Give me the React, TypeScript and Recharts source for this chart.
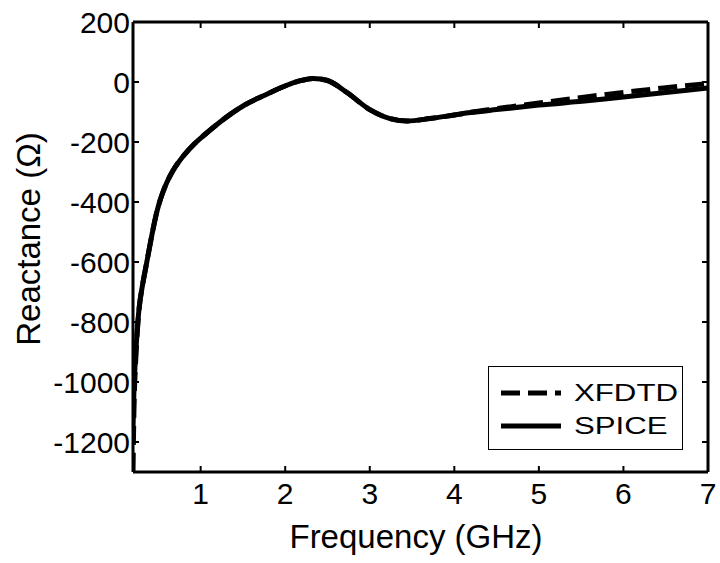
import React from 'react';
import { LineChart, Line, XAxis, YAxis, Legend } from 'recharts';

// frequency in GHz
const FREQ = [
  0.2, 0.21, 0.23, 0.25, 0.265, 0.28, 0.3, 0.32, 0.36, 0.42, 0.48, 0.52, 0.55, 0.6, 0.67, 0.8, 0.93, 1.05, 1.2,
  1.35, 1.53, 1.75, 1.94, 2.15, 2.33, 2.5, 2.73, 3.0, 3.24, 3.44, 3.71, 4.0, 4.19, 4.5, 5.0, 5.6, 6.0, 6.5, 7.0,
];

// reactance in ohm
const XFDTD = [
  -1300, -1110, -940, -835, -778, -737, -698, -665, -605, -515, -435, -395, -370, -335, -297, -245, -205, -175,
  -140, -108, -75, -45, -20, 2, 12, 5, -35, -92, -122, -130, -122, -110, -101, -89, -70, -48, -35, -19, -5,
];

const SPICE = [
  -1160, -1040, -915, -830, -775, -735, -698, -665, -605, -515, -435, -395, -370, -335, -297, -245, -205, -175,
  -140, -108, -75, -45, -20, 2, 12, 5, -35, -92, -122, -130, -122, -110, -102, -92, -77, -62, -50, -35, -20,
];

const X_TICKS = [1, 2, 3, 4, 5, 6, 7];
const Y_TICKS = [-1200, -1000, -800, -600, -400, -200, 0, 200];

const FONT = '"Liberation Sans", Arial, Helvetica, sans-serif';
const DASH = '19 8';

const data = FREQ.map((f, i) => ({ f, xfdtd: XFDTD[i], spice: SPICE[i] }));

const tickStyle = { fill: '#000', fontSize: 30, fontFamily: FONT };
const tickLineStyle = { stroke: '#000', strokeWidth: 2 };
const axisLineStyle = { stroke: '#000', strokeWidth: 3 };

const renderLegend = () => (
  <div
    style={{
      border: '1px solid #000',
      background: '#fff',
      width: 195,
      height: 84,
      paddingTop: 9,
      boxSizing: 'border-box',
      fontFamily: FONT,
      fontSize: 24,
      color: '#000',
    }}
  >
    {[
      { name: 'XFDTD', dash: DASH },
      { name: 'SPICE', dash: undefined },
    ].map((s) => (
      <div key={s.name} style={{ display: 'flex', alignItems: 'center', height: 33, paddingLeft: 12 }}>
        <svg width={60} height={10} style={{ display: 'block' }}>
          <line x1={0} y1={5} x2={60} y2={5} stroke="#000" strokeWidth={5} strokeDasharray={s.dash} />
        </svg>
        <span
          style={{
            marginLeft: 13,
            lineHeight: '33px',
            display: 'inline-block',
            transform: 'scale(1.3,1)',
            transformOrigin: 'left center',
          }}
        >
          {s.name}
        </span>
      </div>
    ))}
  </div>
);

// axis titles
const YLabel = () => (
  <text
    x={40}
    y={239}
    transform="rotate(-90, 40, 239)"
    textAnchor="middle"
    fontFamily={FONT}
    fontSize={33}
    fill="#000"
  >
    Reactance (Ω)
  </text>
);

const XLabel = () => (
  <text x={416} y={548} textAnchor="middle" fontFamily={FONT} fontSize={33} fill="#000">
    Frequency (GHz)
  </text>
);

export default function App() {
  return (
    <div style={{ position: 'absolute', left: 0, top: 0, background: '#fff' }}>
      <LineChart width={720} height={563} data={data} margin={{ top: 21, right: 11, bottom: 0, left: 0 }}>
        <XAxis
          dataKey="f"
          type="number"
          domain={[0.2, 7]}
          ticks={X_TICKS}
          allowDataOverflow
          height={91}
          tick={tickStyle}
          tickSize={-6}
          tickMargin={17}
          tickLine={tickLineStyle}
          axisLine={axisLineStyle}
          label={<XLabel />}
        />
        <XAxis
          xAxisId="top"
          orientation="top"
          dataKey="f"
          type="number"
          domain={[0.2, 7]}
          ticks={X_TICKS}
          allowDataOverflow
          height={1}
          tickSize={-6}
          tickFormatter={() => ''}
          tickLine={tickLineStyle}
          axisLine={axisLineStyle}
        />
        <YAxis
          type="number"
          domain={[-1300, 200]}
          ticks={Y_TICKS}
          allowDataOverflow
          width={133}
          tick={tickStyle}
          tickSize={-6}
          tickMargin={9}
          tickLine={tickLineStyle}
          axisLine={axisLineStyle}
          label={<YLabel />}
        />
        <YAxis
          yAxisId="right"
          orientation="right"
          type="number"
          domain={[-1300, 200]}
          ticks={Y_TICKS}
          allowDataOverflow
          width={1}
          tickSize={-6}
          tickFormatter={() => ''}
          tickLine={tickLineStyle}
          axisLine={axisLineStyle}
        />
        <Legend
          layout="vertical"
          align="center"
          verticalAlign="middle"
          content={renderLegend}
          wrapperStyle={{ position: 'absolute', left: 488, top: 366, width: 'auto', height: 'auto' }}
        />
        <Line
          dataKey="spice"
          name="SPICE"
          type="monotone"
          stroke="#000"
          strokeWidth={5}
          dot={false}
          isAnimationActive={false}
        />
        {/* the top and right axes share the main domains, so this series sits on the same scale */}
        <Line
          xAxisId="top"
          yAxisId="right"
          dataKey="xfdtd"
          name="XFDTD"
          type="monotone"
          stroke="#000"
          strokeWidth={5}
          strokeDasharray={DASH}
          dot={false}
          isAnimationActive={false}
        />
      </LineChart>
    </div>
  );
}
